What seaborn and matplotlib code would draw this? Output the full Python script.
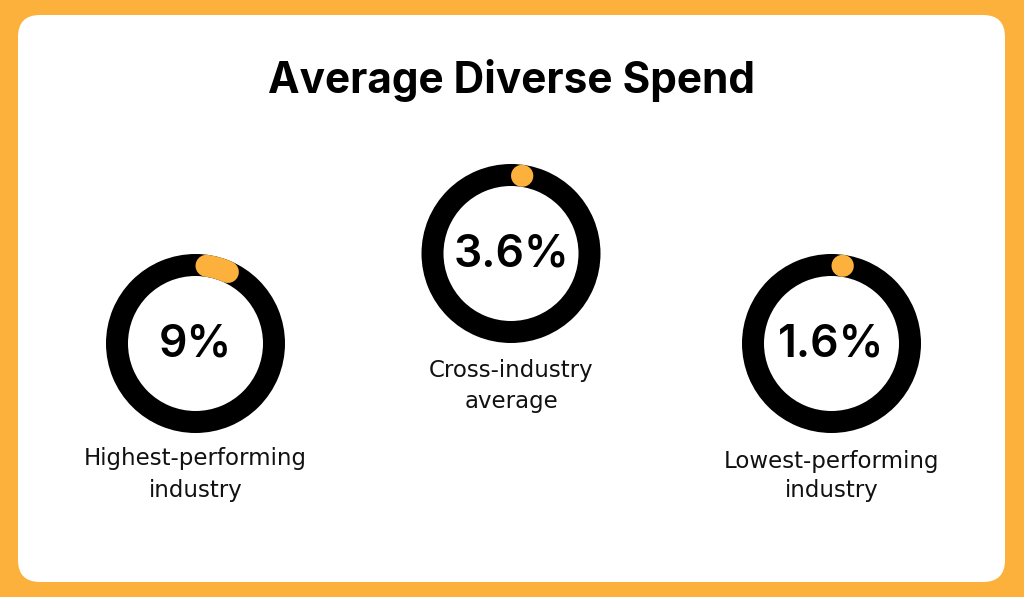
import numpy as np
import seaborn as sns
import matplotlib.pyplot as plt
from matplotlib.patches import Wedge, FancyBboxPatch

# data
values = [9.0, 3.6, 1.6]
value_labels = ["9%", "3.6%", "1.6%"]
captions = [["Highest-performing", "industry"],
            ["Cross-industry", "average"],
            ["Lowest-performing", "industry"]]
title = "Average Diverse Spend"

ORANGE = "#FCB13D"
BLACK = "#000000"

# layout in pixels (figure is 1024 x 597)
centers = [(195.5, 343.5), (511.0, 253.5), (831.5, 343.5)]
caption_baselines = [(465, 497), (377, 408), (468, 497)]
R_OUT = 89.5
RING = 22.0
R_MID = R_OUT - RING / 2


def main():
    sns.set_theme(style="white")
    plt.rcParams['font.family'] = ['Inter', 'DejaVu Sans']

    fig = plt.figure(figsize=(10.24, 5.97), dpi=100)
    fig.patch.set_facecolor(ORANGE)
    ax = fig.add_axes([0, 0, 1, 1])
    ax.set_xlim(0, 1024)
    ax.set_ylim(597, 0)
    ax.set_aspect("equal")
    ax.axis("off")

    # white card
    card = FancyBboxPatch((18 + 22, 15 + 22), 987 - 44, 567 - 44,
                          boxstyle="round,pad=22", facecolor="white",
                          edgecolor="none", zorder=0)
    ax.add_patch(card)

    ax.text(512, 93, title, ha="center", va="baseline",
            fontsize=30.5, fontweight="bold", color=BLACK)

    cap_deg = np.degrees((RING / 2) / R_MID)
    lw_pt = RING * 72 / fig.dpi

    for val, vlab, cap, (cx, cy), bl in zip(values, value_labels, captions,
                                            centers, caption_baselines):
        ring = Wedge((cx, cy), R_OUT, 0, 360, width=RING,
                     facecolor=BLACK, edgecolor="none", zorder=1)
        ax.add_patch(ring)

        # orange arc, clockwise from 12 o'clock, round caps kept inside the share
        span = val / 100 * 360
        a0 = cap_deg
        a1 = max(span - cap_deg, cap_deg + 0.3)
        theta = np.radians(np.linspace(a0, a1, 40))
        xs = cx + R_MID * np.sin(theta)
        ys = cy - R_MID * np.cos(theta)
        sns.lineplot(x=xs, y=ys, ax=ax, sort=False, estimator=None,
                     color=ORANGE, linewidth=lw_pt, solid_capstyle="round",
                     zorder=2)

        ax.text(cx, cy + 1, vlab, ha="center", va="center",
                fontsize=32, fontweight="semibold", color=BLACK, zorder=3)

        for line, y in zip(cap, bl):
            ax.text(cx, y, line, ha="center", va="baseline",
                    fontsize=16.5, color="#111111", zorder=3,
                    family=['DejaVu Sans'])

    ax.set_xlim(0, 1024)
    ax.set_ylim(597, 0)
    fig.savefig("out.png", dpi=100, facecolor=fig.get_facecolor())


if __name__ == "__main__":
    main()
